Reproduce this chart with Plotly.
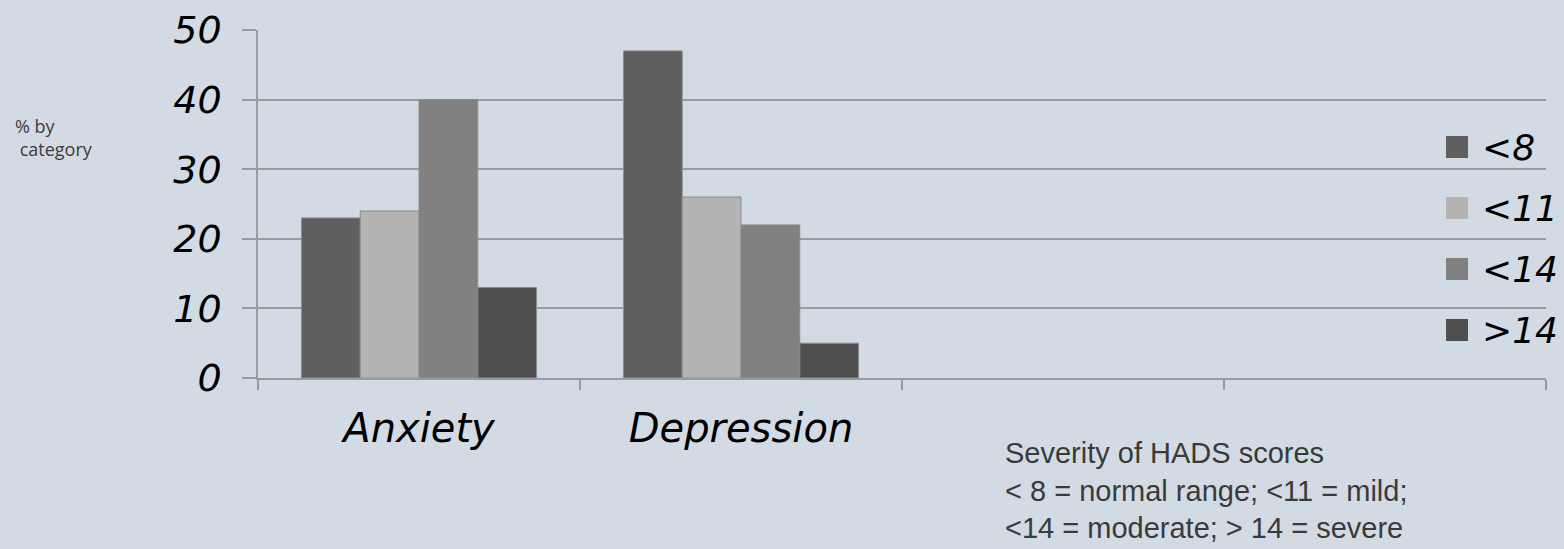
import plotly.graph_objects as go

categories = ["Anxiety", "Depression", " ", "  "]
series_names = ["<8", "<11", "<14", ">14"]
lt8 = [23, 47, None, None]
lt11 = [24, 26, None, None]
lt14 = [40, 22, None, None]
gt14 = [13, 5, None, None]
series_values = [lt8, lt11, lt14, gt14]
colors = ["#5f5f5f", "#b4b4b4", "#818181", "#4f4f4f"]
y_ticks = [0, 10, 20, 30, 40, 50]

BG = "#d2dbe3"
GRID = "#989ca2"
TICKFONT = "DejaVu Sans, Verdana, sans-serif"
NOTEFONT = "Liberation Sans, Arial, sans-serif"

W, H = 1564, 549
ML, MR, MT, MB = 258, 18, 30, 171
PW, PH = W - ML - MR, H - MT - MB

fig = go.Figure()
for name, vals, col in zip(series_names, series_values, colors):
    fig.add_trace(go.Bar(
        x=categories, y=vals, name=name, showlegend=False,
        marker=dict(color=col, line=dict(color="#8c8c8c", width=1)),
    ))

# legend drawn as squares + labels (placed in paper coordinates)
LEG_X0, LEG_SQ, LEG_TOP, LEG_STEP, LEG_TXT = 1446, 22, 147, 61, 1480
for i, (name, col) in enumerate(zip(series_names, colors)):
    cy = LEG_TOP + i * LEG_STEP
    fig.add_shape(
        type="rect", xref="paper", yref="paper",
        x0=(LEG_X0 - ML) / PW, x1=(LEG_X0 + LEG_SQ - ML) / PW,
        y0=(MT + PH - (cy + LEG_SQ / 2)) / PH, y1=(MT + PH - (cy - LEG_SQ / 2)) / PH,
        fillcolor=col, line=dict(width=0),
    )
    fig.add_annotation(
        xref="paper", yref="paper", x=(LEG_TXT - ML) / PW, y=(MT + PH - cy) / PH,
        xanchor="left", yanchor="middle", text=name.replace("<", "&lt;").replace(">", "&gt;"),
        showarrow=False,
        font=dict(size=36, style="italic", family=TICKFONT, color="#000000"),
    )

fig.update_layout(
    template="none",
    width=W, height=H,
    paper_bgcolor=BG, plot_bgcolor=BG,
    margin=dict(l=ML, r=MR, t=MT, b=MB),
    barmode="group", bargap=0.27, bargroupgap=0,
    font=dict(family=TICKFONT, color="#000000"),
    showlegend=False,
    xaxis=dict(
        type="category", categoryorder="array", categoryarray=categories,
        range=[-0.5, 3.5], automargin=False,
        showline=True, linecolor=GRID, linewidth=1.5,
        ticks="outside", tickson="boundaries", ticklen=10, tickcolor=GRID, tickwidth=1.5,
        showgrid=False, ticklabelstandoff=14,
        tickfont=dict(size=40, style="italic", family=TICKFONT, color="#000000"),
    ),
    yaxis=dict(
        range=[0, 50], tickvals=y_ticks, automargin=False,
        showline=True, linecolor=GRID, linewidth=1.5,
        ticks="outside", ticklen=14, tickcolor=GRID, tickwidth=1.5,
        showgrid=True, gridcolor=GRID, gridwidth=1.5,
        zeroline=False, ticklabelstandoff=13,
        tickfont=dict(size=38, style="italic", family=TICKFONT, color="#000000"),
    ),
)

fig.add_annotation(
    xref="paper", yref="paper", x=-0.1902, y=0.764, xanchor="left", yanchor="top",
    text="% by<br> category", showarrow=False, align="left",
    font=dict(family="Open Sans, sans-serif", size=18, color="#3c3c3c"),
)
fig.add_annotation(
    xref="paper", yref="paper", x=0.5784, y=-0.165, xanchor="left", yanchor="top",
    text="Severity of HADS scores<br>&lt; 8 = normal range; &lt;11 = mild;<br>&lt;14 = moderate; &gt; 14 = severe",
    showarrow=False, align="left",
    font=dict(family=NOTEFONT, size=29, color="#3a3a3a"),
)

fig.write_html("out.html")
